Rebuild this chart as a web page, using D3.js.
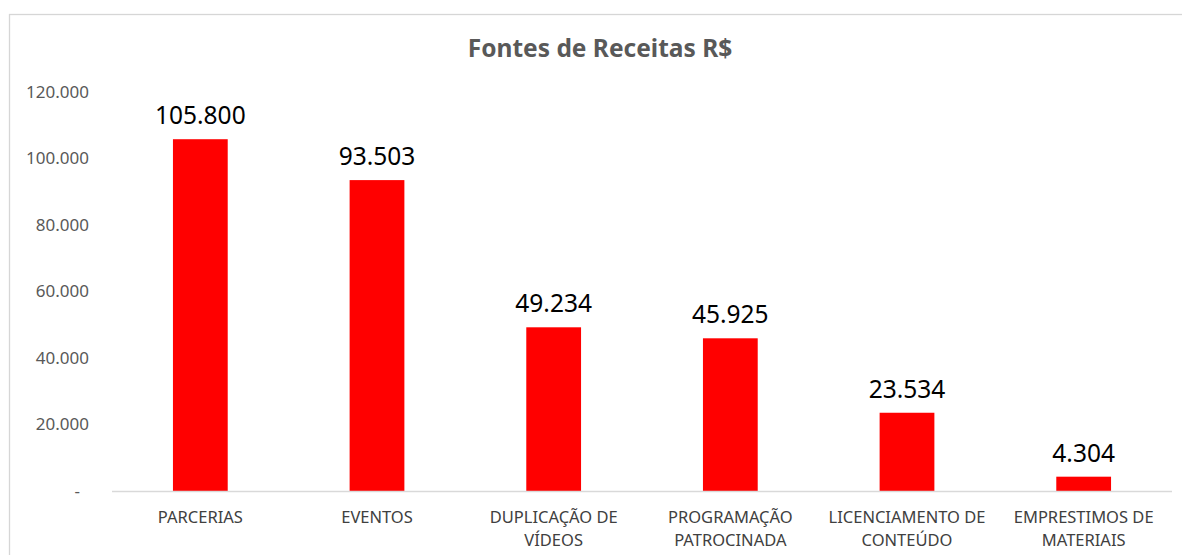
<!DOCTYPE html>
<html>
<head>
<meta charset="utf-8">
<script src="https://cdn.jsdelivr.net/npm/d3@7"></script>
<style>
  html, body { margin: 0; padding: 0; background: #fff; }
  svg { display: block; font-family: "Noto Sans", "Open Sans", sans-serif; }
</style>
</head>
<body>
<script>
// Fontes de Receitas R$ — vertical bar chart
const W = 1182, H = 555;

const categories = [
    "PARCERIAS",
    "EVENTOS",
    "DUPLICAÇÃO DE VÍDEOS",
    "PROGRAMAÇÃO PATROCINADA",
    "LICENCIAMENTO DE CONTEÚDO",
    "EMPRESTIMOS DE MATERIAIS",
];
const values = [105800, 93503, 49234, 45925, 23534, 4304];
const yTicks = [0, 20000, 40000, 60000, 80000, 100000, 120000];
const title = "Fontes de Receitas R$";

const fmt = d3.formatLocale({ decimal: ",", thousands: ".", grouping: [3], currency: ["R$", ""] }).format(",d");

const plot = { left: 112, right: 1172, top: 92, bottom: 491 };

const svg = d3.select("body").append("svg")
    .attr("width", W)
    .attr("height", H);

// chart frame (right/bottom edges fall outside the window)
svg.append("rect")
    .attr("x", 9.5).attr("y", 14.5)
    .attr("width", 1200).attr("height", 600)
    .attr("fill", "#fff")
    .attr("stroke", "#d6d6d6")
    .attr("stroke-width", 1.3);

svg.append("text")
    .attr("x", 600).attr("y", 57)
    .attr("text-anchor", "middle")
    .attr("font-size", 24.5).attr("font-weight", "bold")
    .attr("fill", "#595959")
    .text(title);

const x = d3.scaleBand()
    .domain(categories)
    .range([plot.left, plot.right])
    .paddingInner(0.69)
    .paddingOuter(0.345);

const y = d3.scaleLinear()
    .domain([0, 120000])
    .range([plot.bottom, plot.top]);

// y axis labels only (no line, no ticks)
const yAxis = svg.append("g")
    .attr("transform", "translate(89,0)")
    .call(d3.axisLeft(y).tickValues(yTicks).tickSize(0).tickPadding(0)
        .tickFormat(d => d === 0 ? "-" : fmt(d)));
yAxis.select(".domain").remove();
yAxis.selectAll("text")
    .attr("font-family", "Noto Sans, sans-serif")
    .attr("font-size", 17)
    .attr("fill", "#595959")
    .attr("dx", d => d === 0 ? -9 : 0);

// bars
svg.append("g").selectAll("rect")
    .data(values)
    .join("rect")
    .attr("x", (d, i) => x(categories[i]))
    .attr("width", x.bandwidth())
    .attr("y", d => y(d))
    .attr("height", d => y(0) - y(d))
    .attr("fill", "#ff0000");

// baseline
svg.append("line")
    .attr("x1", plot.left).attr("x2", plot.right)
    .attr("y1", plot.bottom + 0.5).attr("y2", plot.bottom + 0.5)
    .attr("stroke", "#d9d9d9")
    .attr("stroke-width", 1.5);

// value labels
svg.append("g").selectAll("text")
    .data(values)
    .join("text")
    .attr("x", (d, i) => x(categories[i]) + x.bandwidth() / 2)
    .attr("y", d => y(d) - 15)
    .attr("text-anchor", "middle")
    .attr("font-size", 24.5)
    .attr("fill", "#000")
    .text(d => fmt(d));

// category labels, wrapped to the band step
const catG = svg.append("g");
categories.forEach(c => {
    const cx = x(c) + x.bandwidth() / 2;
    const t = catG.append("text")
        .attr("x", cx)
        .attr("y", 523)
        .attr("text-anchor", "middle")
        .attr("font-size", 16.5)
        .attr("fill", "#404040");
    const words = c.split(" ");
    let line = [];
    let tspan = t.append("tspan").attr("x", cx).attr("dy", 0);
    words.forEach(w => {
        line.push(w);
        tspan.text(line.join(" "));
        if (tspan.node().getComputedTextLength() > x.step() - 4 && line.length > 1) {
            line.pop();
            tspan.text(line.join(" "));
            line = [w];
            tspan = t.append("tspan").attr("x", cx).attr("dy", 23).text(w);
        }
    });
});
</script>
</body>
</html>
